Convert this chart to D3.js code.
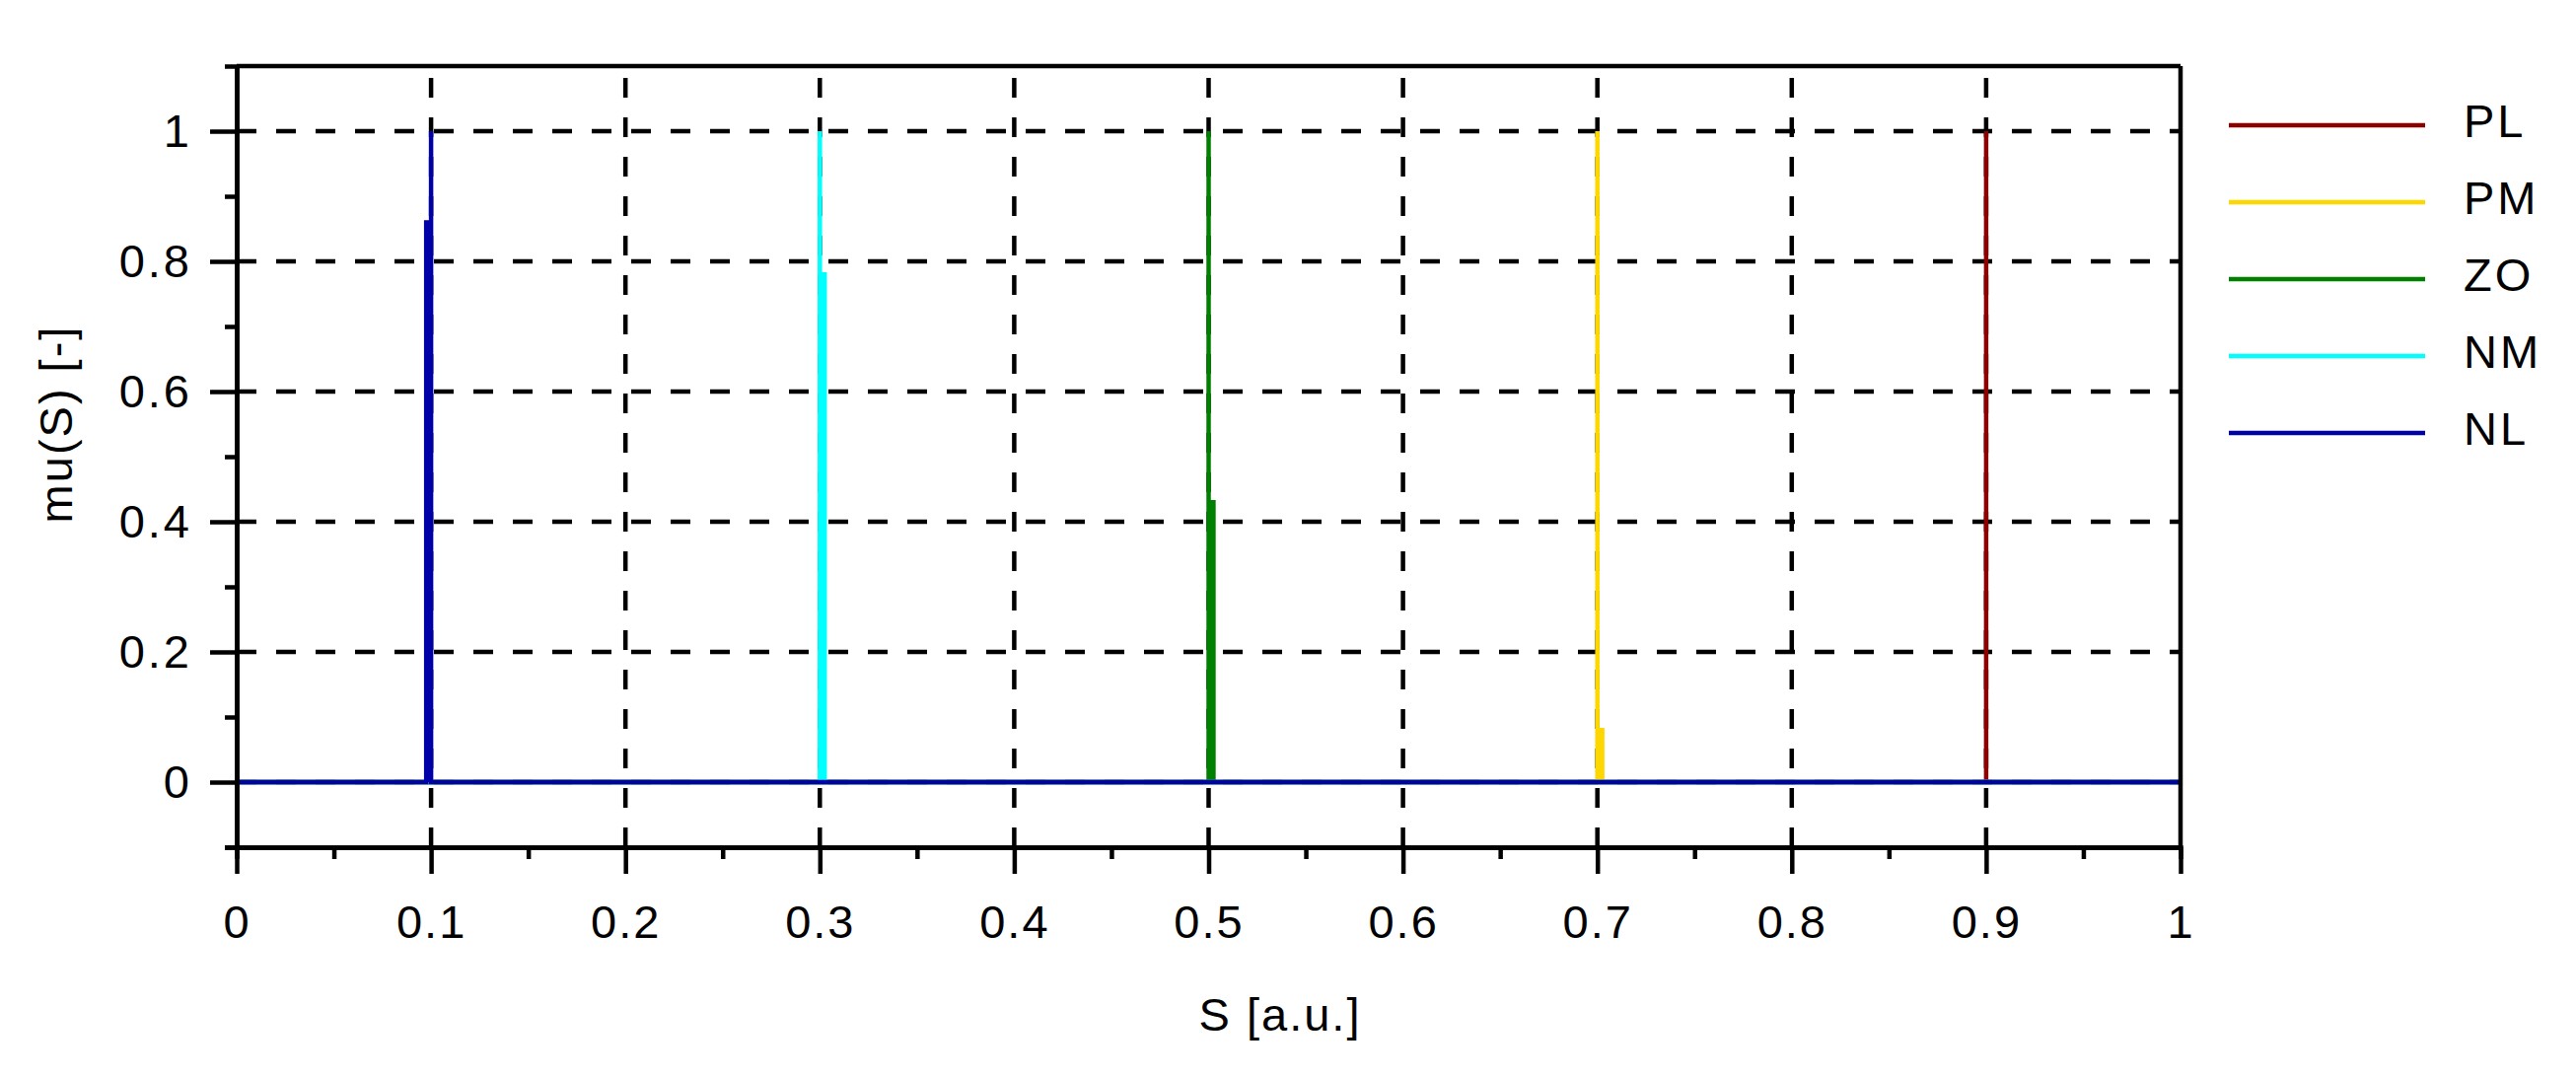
<!DOCTYPE html>
<html>
<head>
<meta charset="utf-8">
<script src="https://cdn.jsdelivr.net/npm/d3@7"></script>
<style>
  body { margin: 0; background: #fff; }
  text { font-family: "Liberation Sans", Arial, sans-serif; fill: #000; }
</style>
</head>
<body>
<svg id="chart"></svg>
<script>
// Tick values and labels
const sTicks = [0, 0.1, 0.2, 0.3, 0.4, 0.5, 0.6, 0.7, 0.8, 0.9, 1];
const sTickLabels = ["0", "0.1", "0.2", "0.3", "0.4", "0.5", "0.6", "0.7", "0.8", "0.9", "1"];
const sMinor = [0.05, 0.15, 0.25, 0.35, 0.45, 0.55, 0.65, 0.75, 0.85, 0.95];
const muTicks = [0, 0.2, 0.4, 0.6, 0.8, 1];
const muTickLabels = ["0", "0.2", "0.4", "0.6", "0.8", "1"];
const muMinor = [-0.1, 0.1, 0.3, 0.5, 0.7, 0.9];

// Series (legend order)
const seriesNames = ["PL", "PM", "ZO", "NM", "NL"];
const plS = [0, 0.9, 0.9, 0.9, 1];
const plMu = [0, 0, 1, 0, 0];
const pmS = [0, 0.7, 0.7, 0.7, 0.7025, 0.7025, 1];
const pmMu = [0, 0, 1, 0.08, 0.08, 0, 0];
const zoS = [0, 0.5, 0.5, 0.5, 0.5025, 0.5025, 1];
const zoMu = [0, 0, 1, 0.43, 0.43, 0, 0];
const nmS = [0, 0.3, 0.3, 0.3, 0.3025, 0.3025, 1];
const nmMu = [0, 0, 1, 0.78, 0.78, 0, 0];
const nlS = [0, 0.0975, 0.0975, 0.1, 0.1, 0.1, 1];
const nlMu = [0, 0, 0.86, 0.86, 1, 0, 0];

const colors = { PL: "#8c0000", PM: "#ffd700", ZO: "#008000", NM: "#00ffff", NL: "#0000a8" };
const seriesData = {
  PL: d3.zip(plS, plMu),
  PM: d3.zip(pmS, pmMu),
  ZO: d3.zip(zoS, zoMu),
  NM: d3.zip(nmS, nmMu),
  NL: d3.zip(nlS, nlMu)
};

const W = 2612, H = 1092;
const plotLeft = 240, plotRight = 2211, plotTop = 67, plotBottom = 859;
const lw = 4.5;

const svg = d3.select("#chart").attr("width", W).attr("height", H);
svg.append("rect").attr("width", W).attr("height", H).attr("fill", "#fff");

const x = d3.scaleLinear().domain([0, 1]).range([plotLeft, plotRight]);
const y = d3.scaleLinear().domain([-0.1, 1.1]).range([plotBottom, plotTop]);

// dashed grid
const grid = svg.append("g").attr("stroke", "#000").attr("stroke-width", lw).attr("stroke-dasharray", "20,20");
grid.selectAll(".gx").data(sTicks.slice(1, -1)).enter().append("line")
  .attr("x1", d => x(d)).attr("x2", d => x(d))
  .attr("y1", plotBottom).attr("y2", plotTop);
grid.selectAll(".gy").data(muTicks).enter().append("line")
  .attr("x1", plotLeft).attr("x2", plotRight)
  .attr("y1", d => y(d)).attr("y2", d => y(d));

// series (area under each curve filled, so the narrow spikes read solid)
const line = d3.line().x(d => x(d[0])).y(d => y(d[1]));
seriesNames.forEach(function(name) {
  svg.append("path")
    .attr("d", line(seriesData[name]))
    .attr("fill", colors[name])
    .attr("stroke", colors[name])
    .attr("stroke-width", lw)
    .attr("stroke-linejoin", "miter");
});

// frame top / right
svg.append("line").attr("x1", plotLeft).attr("x2", plotRight).attr("y1", plotTop).attr("y2", plotTop)
  .attr("stroke", "#000").attr("stroke-width", lw);
svg.append("line").attr("x1", plotRight).attr("x2", plotRight).attr("y1", plotTop).attr("y2", plotBottom)
  .attr("stroke", "#000").attr("stroke-width", lw);

function styleAxis(g) {
  g.select(".domain").attr("stroke-width", lw);
  g.selectAll(".tick line").attr("stroke-width", lw);
  g.selectAll("text").style("font-size", "47px").style("font-family", "Liberation Sans, Arial, sans-serif")
    .attr("letter-spacing", 2);
}

// x axis
svg.append("g").attr("transform", "translate(0," + plotBottom + ")")
  .call(d3.axisBottom(x).tickValues(sMinor).tickSize(12).tickFormat(""))
  .call(styleAxis);
svg.append("g").attr("transform", "translate(0," + plotBottom + ")")
  .call(d3.axisBottom(x).tickValues(sTicks).tickSizeInner(27).tickSizeOuter(0).tickPadding(32)
    .tickFormat((d, i) => sTickLabels[i]))
  .call(styleAxis);

// y axis
svg.append("g").attr("transform", "translate(" + plotLeft + ",0)")
  .call(d3.axisLeft(y).tickValues(muMinor).tickSize(12).tickFormat(""))
  .call(styleAxis);
svg.append("g").attr("transform", "translate(" + plotLeft + ",0)")
  .call(d3.axisLeft(y).tickValues(muTicks).tickSizeInner(27).tickSizeOuter(0).tickPadding(18)
    .tickFormat((d, i) => muTickLabels[i]))
  .call(styleAxis)
  .selectAll("text").attr("letter-spacing", 3);

// axis titles
svg.append("text")
  .attr("x", 1298).attr("y", 1045)
  .attr("text-anchor", "middle")
  .style("font-size", "47px").attr("letter-spacing", 2)
  .text("S [a.u.]");

svg.append("text")
  .attr("transform", "translate(73,430) rotate(-90)")
  .attr("text-anchor", "middle")
  .style("font-size", "47px").attr("letter-spacing", 2)
  .text("mu(S) [-]");

// legend
const legend = svg.append("g");
seriesNames.forEach(function(name, i) {
  const ly = 127 + i * 78;
  legend.append("line")
    .attr("x1", 2260).attr("x2", 2459)
    .attr("y1", ly).attr("y2", ly)
    .attr("stroke", colors[name]).attr("stroke-width", lw);
  legend.append("text")
    .attr("x", 2498).attr("y", ly + 12)
    .style("font-size", "47px").attr("letter-spacing", 3)
    .text(name);
});
</script>
</body>
</html>
